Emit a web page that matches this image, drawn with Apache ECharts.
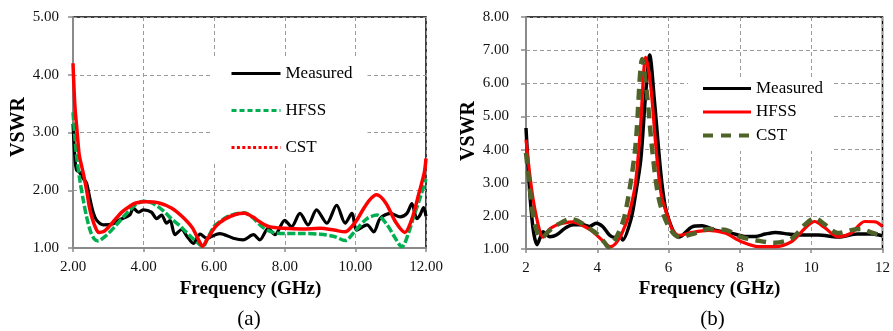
<!DOCTYPE html>
<html>
<head>
<meta charset="utf-8">
<script src="https://cdn.jsdelivr.net/npm/echarts@6/dist/echarts.min.js"></script>
<style>
  html, body { margin: 0; padding: 0; background: #fff; }
  #wrap { position: relative; width: 893px; height: 331px; }
  #chartA { position: absolute; left: 0; top: 0; width: 450px; height: 331px; }
  #chartB { position: absolute; left: 450px; top: 0; width: 443px; height: 331px; }
</style>
</head>
<body>
<div id="wrap"><div id="chartA"></div><div id="chartB"></div></div>
<script>
// ---------- Panel (a) ----------
const aMeasuredF = [2.0, 2.05, 2.1, 2.2, 2.29, 2.38, 2.48, 2.58, 2.67, 2.86, 3.14, 3.35, 3.52, 3.62, 3.71, 3.85, 4.0, 4.22, 4.37, 4.51, 4.65, 4.75, 4.89, 5.08, 5.22, 5.41, 5.6, 5.79, 6.07, 6.16, 6.54, 6.82, 7.11, 7.29, 7.53, 7.72, 8.0, 8.19, 8.43, 8.66, 8.9, 9.19, 9.47, 9.71, 9.9, 10.04, 10.33, 10.52, 10.7, 10.99, 11.27, 11.46, 11.6, 11.74, 11.83, 11.93, 12.0];
const aMeasuredV = [3.15, 2.6, 2.35, 2.3, 2.2, 2.13, 1.85, 1.6, 1.48, 1.4, 1.42, 1.5, 1.54, 1.58, 1.69, 1.62, 1.66, 1.62, 1.51, 1.57, 1.43, 1.48, 1.23, 1.32, 1.21, 1.08, 1.24, 1.17, 1.24, 1.25, 1.17, 1.14, 1.23, 1.14, 1.34, 1.23, 1.48, 1.37, 1.6, 1.4, 1.66, 1.43, 1.74, 1.43, 1.6, 1.31, 1.4, 1.28, 1.51, 1.6, 1.54, 1.6, 1.77, 1.51, 1.57, 1.7, 1.55];

const aHfssF = [2.0, 2.05, 2.1, 2.2, 2.3, 2.4, 2.5, 2.6, 2.72, 2.85, 3.0, 3.2, 3.4, 3.6, 3.8, 4.0, 4.2, 4.4, 4.6, 4.8, 5.0, 5.2, 5.4, 5.55, 5.68, 5.8, 6.0, 6.15, 6.4, 6.85, 7.1, 7.37, 7.66, 8.0, 8.5, 9.0, 9.4, 9.71, 10.0, 10.33, 10.61, 10.9, 11.1, 11.32, 11.5, 11.65, 11.85, 12.0];
const aHfssV = [3.35, 2.95, 2.6, 2.15, 1.8, 1.5, 1.28, 1.16, 1.12, 1.17, 1.25, 1.38, 1.52, 1.65, 1.76, 1.81, 1.79, 1.72, 1.62, 1.5, 1.4, 1.28, 1.16, 1.08, 1.02, 1.15, 1.38, 1.45, 1.55, 1.61, 1.52, 1.36, 1.27, 1.25, 1.25, 1.24, 1.2, 1.13, 1.3, 1.51, 1.57, 1.4, 1.2, 1.02, 1.25, 1.54, 1.9, 2.2];

const aCstF = [2.0, 2.03, 2.06, 2.1, 2.14, 2.18, 2.27, 2.33, 2.4, 2.46, 2.54, 2.64, 2.73, 2.85, 3.02, 3.2, 3.4, 3.6, 3.78, 4.06, 4.44, 4.8, 5.1, 5.38, 5.55, 5.67, 5.8, 6.05, 6.3, 6.6, 6.86, 7.09, 7.3, 7.56, 8.0, 8.5, 9.0, 9.4, 9.7, 10.0, 10.2, 10.4, 10.6, 10.86, 11.14, 11.4, 11.6, 11.8, 11.95, 12.0];
const aCstV = [4.2, 3.75, 3.4, 3.13, 2.84, 2.6, 2.35, 2.18, 1.95, 1.72, 1.52, 1.35, 1.27, 1.28, 1.37, 1.5, 1.63, 1.72, 1.78, 1.8, 1.78, 1.69, 1.54, 1.35, 1.15, 1.03, 1.15, 1.38, 1.5, 1.58, 1.6, 1.54, 1.45, 1.37, 1.34, 1.33, 1.34, 1.31, 1.28, 1.45, 1.65, 1.83, 1.92, 1.78, 1.45, 1.27, 1.5, 1.95, 2.3, 2.55];

// ---------- Panel (b) ----------
const bMeasuredF = [2.0, 2.1, 2.2, 2.31, 2.4, 2.48, 2.67, 2.85, 3.1, 3.32, 3.6, 3.78, 3.97, 4.15, 4.34, 4.48, 4.62, 4.71, 4.94, 5.08, 5.22, 5.35, 5.47, 5.6, 5.78, 5.9, 6.0, 6.15, 6.29, 6.66, 6.94, 7.3, 7.76, 8.13, 8.43, 8.71, 9.0, 9.36, 9.7, 10.2, 10.75, 11.3, 11.7, 12.0];
const bMeasuredV = [4.65, 2.8, 1.6, 1.13, 1.35, 1.52, 1.37, 1.42, 1.63, 1.73, 1.73, 1.68, 1.78, 1.68, 1.42, 1.35, 1.42, 1.27, 1.88, 2.7, 3.7, 5.6, 6.85, 5.5, 3.3, 2.3, 1.9, 1.5, 1.36, 1.67, 1.7, 1.57, 1.48, 1.38, 1.38, 1.45, 1.5, 1.45, 1.42, 1.42, 1.36, 1.45, 1.45, 1.4];

const bHfssF = [2.0, 2.1, 2.2, 2.31, 2.4, 2.48, 2.66, 2.85, 3.04, 3.32, 3.6, 3.8, 3.98, 4.2, 4.36, 4.5, 4.64, 4.76, 4.87, 5.06, 5.2, 5.36, 5.5, 5.65, 5.8, 6.0, 6.1, 6.29, 6.66, 7.12, 7.58, 8.04, 8.52, 8.98, 9.45, 9.82, 10.1, 10.37, 10.75, 11.12, 11.5, 11.8, 12.0];
const bHfssV = [4.3, 3.3, 2.5, 1.88, 1.5, 1.36, 1.6, 1.72, 1.78, 1.82, 1.7, 1.58, 1.42, 1.2, 1.07, 1.15, 1.36, 1.65, 1.97, 2.9, 4.5, 6.78, 5.9, 4.0, 2.6, 1.9, 1.6, 1.41, 1.5, 1.56, 1.48, 1.22, 1.07, 1.07, 1.22, 1.62, 1.83, 1.65, 1.37, 1.48, 1.83, 1.82, 1.68];

const bCstF = [2.0, 2.1, 2.2, 2.3, 2.44, 2.6, 2.8, 3.0, 3.23, 3.45, 3.7, 4.0, 4.2, 4.31, 4.45, 4.6, 4.76, 4.95, 5.08, 5.26, 5.4, 5.55, 5.73, 6.0, 6.29, 6.66, 7.12, 7.58, 8.04, 8.52, 8.98, 9.45, 9.82, 10.1, 10.37, 10.75, 11.12, 11.4, 11.68, 12.0];
const bCstV = [3.9, 2.9, 2.0, 1.55, 1.33, 1.5, 1.68, 1.8, 1.91, 1.85, 1.68, 1.45, 1.2, 1.06, 1.2, 1.5, 1.97, 3.1, 4.2, 6.73, 5.6, 3.9, 2.5, 1.68, 1.36, 1.45, 1.6, 1.58, 1.36, 1.25, 1.19, 1.32, 1.73, 1.93, 1.75, 1.48, 1.57, 1.6, 1.5, 1.39];

// Axis ticks
const freqTicks = [2, 4, 6, 8, 10, 12];
const aVswrTicks = [1, 2, 3, 4, 5];
const bVswrTicks = [1, 2, 3, 4, 5, 6, 7, 8];

const FONT = '"Liberation Serif", "Times New Roman", Times, serif';
const AXIS_GRAY = '#8a8a8a';
const GRID_GRAY = '#9a9a9a';

function pairs(xs, ys) { return xs.map((x, i) => [x, ys[i]]); }

function lineSeries(name, xs, ys, color, width, type) {
  return {
    name: name,
    type: 'line',
    data: pairs(xs, ys),
    symbol: 'none',
    showSymbol: false,
    smooth: 0.3,
    clip: true,
    itemStyle: { color: color },
    lineStyle: { color: color, width: width, type: type || 'solid', cap: 'butt', join: 'round' }
  };
}

function valueAxis(ticks, fmt, margin, isX) {
  return {
    type: 'value',
    min: ticks[0],
    max: ticks[ticks.length - 1],
    interval: ticks[1] - ticks[0],
    axisLine: { show: true, onZero: false, lineStyle: { color: AXIS_GRAY, width: 2 } },
    axisTick: { show: true, length: isX ? 4 : 5, lineStyle: { color: AXIS_GRAY, width: 1.5 } },
    axisLabel: { formatter: fmt, fontFamily: FONT, fontSize: 15, color: '#111', margin: margin },
    splitLine: { show: true, lineStyle: { color: GRID_GRAY, width: 1, type: [4, 3] } }
  };
}

function texts(vswrX, vswrY, freqX, capX, cap) {
  return [
    { type: 'text', x: vswrX, y: vswrY, rotation: Math.PI / 2,
      style: { text: 'VSWR', font: 'bold 20px ' + FONT, fill: '#000', align: 'center', verticalAlign: 'middle' } },
    { type: 'text', x: freqX, y: 289,
      style: { text: 'Frequency (GHz)', font: 'bold 19px ' + FONT, fill: '#000', align: 'center', verticalAlign: 'middle' } },
    { type: 'text', x: capX, y: 319,
      style: { text: cap, font: '21px ' + FONT, fill: '#000', align: 'center', verticalAlign: 'middle' } }
  ];
}

// Legend: plain line samples, no point marker
function legendBase() {
  return {
    orient: 'vertical',
    backgroundColor: '#fff',
    itemHeight: 16,
    itemStyle: { opacity: 0 },
    textStyle: { fontFamily: FONT, fontSize: 17, color: '#000', lineHeight: 16 }
  };
}

const chartA = echarts.init(document.getElementById('chartA'), null, { renderer: 'canvas' });
chartA.setOption({
  animation: false,
  backgroundColor: '#fff',
  grid: { left: 73, right: 24, top: 17, bottom: 83, show: true, borderColor: '#000', borderWidth: 1.5, backgroundColor: 'transparent' },
  xAxis: valueAxis(freqTicks, v => v.toFixed(2), 12, true),
  yAxis: valueAxis(aVswrTicks, v => v.toFixed(2), 14, false),
  legend: Object.assign(legendBase(), {
    left: 212, top: 57,
    padding: [8, 15, 8, 18],
    itemWidth: 49, itemGap: 20,
    data: [
      { name: 'Measured', lineStyle: { width: 3 } },
      { name: 'HFSS', lineStyle: { width: 3, type: [5, 3] } },
      { name: 'CST', lineStyle: { type: [3, 2.4], width: 3 } }
    ]
  }),
  graphic: texts(18.5, 127, 250.5, 249, '(a)'),
  series: [
    lineSeries('Measured', aMeasuredF, aMeasuredV, '#000000', 3.2),
    lineSeries('HFSS', aHfssF, aHfssV, '#00B050', 3.5, [8, 2.5]),
    lineSeries('CST', aCstF, aCstV, '#FF0000', 3.5)
  ]
});

const chartB = echarts.init(document.getElementById('chartB'), null, { renderer: 'canvas' });
chartB.setOption({
  animation: false,
  backgroundColor: '#fff',
  grid: { left: 76, right: 8, top: 17, bottom: 82, show: true, borderColor: '#000', borderWidth: 1.5, backgroundColor: 'transparent' },
  xAxis: valueAxis(freqTicks, v => String(v), 12, true),
  yAxis: valueAxis(bVswrTicks, v => v.toFixed(2), 17, false),
  legend: Object.assign(legendBase(), {
    left: 238, top: 78,
    padding: [2, 8, 7, 13],
    itemWidth: 48, itemGap: 6.5,
    data: [
      { name: 'Measured', lineStyle: { width: 3 } },
      { name: 'HFSS', lineStyle: { width: 3 } },
      { name: 'CST', lineStyle: { width: 4, type: [10, 8] } }
    ]
  }),
  graphic: texts(18.5, 131, 259.5, 262.5, '(b)'),
  series: [
    lineSeries('Measured', bMeasuredF, bMeasuredV, '#000000', 3.5),
    lineSeries('HFSS', bHfssF, bHfssV, '#FF0000', 3.2),
    lineSeries('CST', bCstF, bCstV, '#4F6228', 4.5, [11, 7])
  ]
});
</script>
</body>
</html>
